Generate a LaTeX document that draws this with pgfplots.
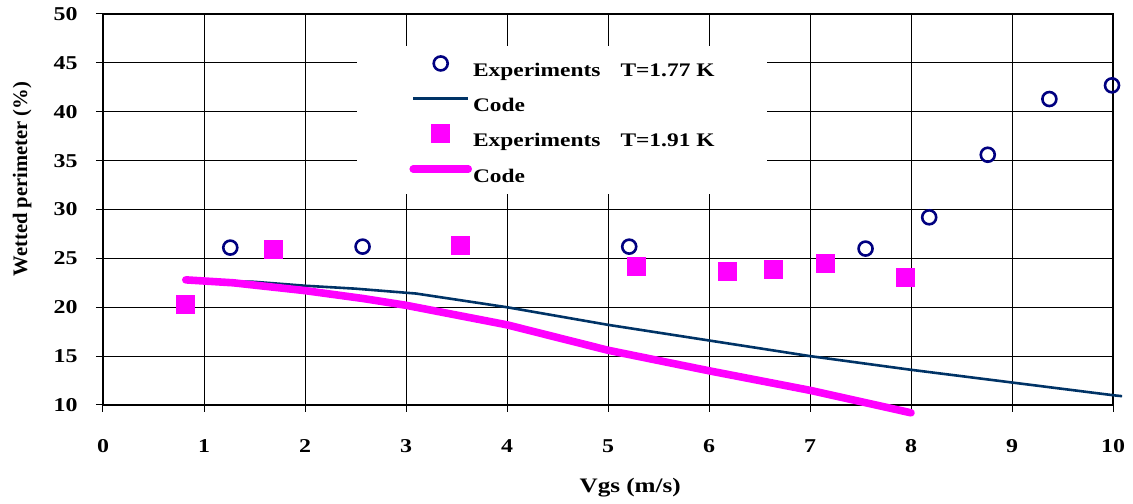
\documentclass[border=0pt]{standalone}
\usepackage{fontspec}
\setmainfont{Liberation Serif}[FakeStretch=1.22]
\newfontfamily\ylabfont{Liberation Serif}
\usepackage{pgfplots}
\pgfplotsset{compat=1.18}

\definecolor{navy}{RGB}{0,0,128}
\definecolor{codeblue}{RGB}{0,51,102}
\definecolor{mag}{RGB}{255,0,255}

\begin{document}
\begin{tikzpicture}
\begin{axis}[
    scale only axis,
    width=505pt, height=195.5pt,
    xmin=0, xmax=10, ymin=10, ymax=50,
    xtick={0,1,...,10}, ytick={10,15,...,50},
    grid=major,
    major grid style={black, line width=0.5pt},
    axis line style={black, line width=1.2pt},
    tick align=outside, tick pos=left,
    major tick length=3.5pt,
    tick style={black, line width=0.5pt},
    clip=false,
    /pgf/number format/assume math mode=true,
    ticklabel style={font=\fontsize{9.8}{11}\selectfont\bfseries},
    yticklabel style={inner sep=0pt, anchor=east, xshift=-9pt},
    xticklabel style={inner sep=0pt, anchor=north, yshift=-13.5pt},
    xlabel={Vgs (m/s)},
    ylabel={\ylabfont Wetted perimeter (\%)},
    label style={font=\fontsize{10.3}{12}\selectfont\bfseries},
    xlabel style={at={(axis description cs:0.522,-0.212)}, anchor=center},
    ylabel style={at={(axis description cs:-0.080,0.578)}, anchor=center, rotate=0},
    legend image code/.code={\draw[mark repeat=2, mark phase=2, #1]
        plot coordinates {(0pt,6.5pt) (13.75pt,6.5pt) (27.5pt,6.5pt)};},
    legend cell align=left,
    legend style={at={(axis description cs:0.2515,0.918)}, anchor=north west,
        draw=none, fill=white, inner xsep=26pt, inner ysep=4pt,
        font=\fontsize{9.6}{12}\selectfont\bfseries,
        cells={anchor=base west},
        nodes={inner sep=0pt, text height=11pt, text depth=2pt},
        row sep=4.6pt, column sep=0.5pt},
]
\addplot[only marks, mark=o, mark size=3.5pt, mark options={draw=navy, line width=1.3pt}]
coordinates {
(1.26,26.1) (2.57,26.2) (5.21,26.2) (7.55,26.0)
(8.18,29.2) (8.76,35.6) (9.37,41.3) (9.99,42.7)
};
\addlegendentry{Experiments\hspace{10pt}T=1.77 K}

\addplot[codeblue, line width=1.3pt, no marks]
coordinates {
(0.82,22.8) (1.5,22.6) (2.0,22.2) (2.5,21.9) (3.1,21.4) (4.0,20.0)
(5.0,18.2) (6.0,16.6) (7.0,15.0) (8.0,13.6) (9.0,12.3) (10.0,11.0) (10.09,10.9)
};
\addlegendentry{Code}

\addplot[only marks, mark=square*, mark size=4.5pt, mark options={draw=mag, fill=mag, line width=0pt}]
coordinates {
(0.82,20.3) (1.69,25.9) (3.54,26.3) (5.28,24.2)
(6.18,23.7) (6.64,23.9) (7.15,24.5) (7.95,23.0)
};
\addlegendentry{Experiments\hspace{10pt}T=1.91 K}

\addplot[mag, line width=3.8pt, line cap=round, no marks]
coordinates {
(0.82,22.8) (1.29,22.5) (2.0,21.7) (2.57,20.9) (3.0,20.2) (4.0,18.2)
(5.0,15.6) (6.0,13.5) (7.0,11.5) (8.0,9.2)
};
\addlegendentry{Code}
\end{axis}
\path (current axis.south west) ++(-51.5pt,-49pt);
\path (current axis.north east) ++(10pt,7pt);
\end{tikzpicture}
\end{document}
